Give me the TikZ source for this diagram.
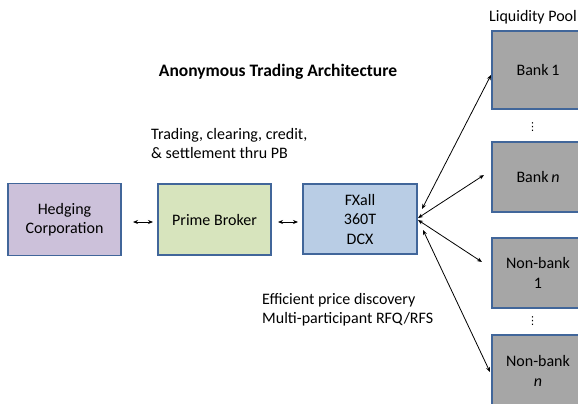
\documentclass[tikz,border=0pt]{standalone}
\usepackage{fontspec}
\setmainfont{Carlito}
\newfontfamily\symbolfont{DejaVu Sans}
\usetikzlibrary{arrows.meta}
\definecolor{edgeblue}{HTML}{41669A}
\definecolor{lavender}{HTML}{CCC1DA}
\definecolor{palegreen}{HTML}{D7E4BD}
\definecolor{paleblue}{HTML}{B9CDE5}
\definecolor{poolgray}{HTML}{A6A6A6}
\tikzset{
  box/.style={draw=edgeblue, line width=1.6pt, minimum width=#1, align=center,
    inner sep=0pt, font=\fontsize{16}{19.5}\selectfont},
  box/.default=113pt,
  link/.style={line width=0.8pt, {Stealth[length=5pt,width=4pt]}-{Stealth[length=5pt,width=4pt]}},
  note/.style={align=left, anchor=west, inner sep=0pt, font=\fontsize{16}{19}\selectfont},
  dots/.style={inner sep=0pt, font=\symbolfont\fontsize{11}{12}\selectfont}
}
\begin{document}
\begin{tikzpicture}[x=1pt,y=-1pt]
\useasboundingbox (0,0) rectangle (578,404);
\clip (0,0) rectangle (578,404);

% title
\node[font=\bfseries\fontsize{17.5}{20}\selectfont] (title) at (278,72) {Anonymous Trading Architecture};

% main chain
\node[box, fill=lavender, minimum height=72pt] (hedge) at (64.5,219.5) {Hedging\\Corporation};
\node[box, fill=palegreen, minimum height=71pt] (pb) at (214.5,219.5) {Prime Broker};
\node[box, fill=paleblue, minimum height=70pt, minimum width=114pt] (fx) at (360,219) {FXall\\360T\\DCX};

% liquidity pool
\node[font=\fontsize{16}{19}\selectfont] (pool) at (533,17) {Liquidity Pool};
\node[box=92pt, fill=poolgray, minimum height=78pt] (b1) at (538,70) {Bank\,1};
\node[box=92pt, fill=poolgray, minimum height=70pt] (bn) at (538,177) {Bank\,\textit{n}};
\node[box=92pt, fill=poolgray, minimum height=70pt] (nb1) at (538,273) {Non-bank\\1};
\node[box=92pt, fill=poolgray, minimum height=72pt] (nbn) at (538,371) {Non-bank\\\textit{n}};
\node[dots] (d1) at (532.5,127) {⋮};
\node[dots] (d2) at (532.5,321) {⋮};

% notes
\node[note] (n1) at (151,144) {Trading, clearing, credit,\\\& settlement thru PB};
\node[note] (n2) at (262,310) {Efficient price discovery\\Multi-participant RFQ/RFS};

% connectors
\coordinate (h1) at (133,222);
\coordinate (h2) at (153,222);
\coordinate (p1) at (278,222);
\coordinate (p2) at (298,222);
\draw[link] (h1) -- (h2);
\draw[link] (p1) -- (p2);

\coordinate (f1) at (422,209);
\coordinate (f2) at (418,218);
\coordinate (f3) at (418,220);
\coordinate (f4) at (423,230);
\coordinate (t1) at (491,75);
\coordinate (t2) at (484,175);
\coordinate (t3) at (482,262);
\coordinate (t4) at (490,372);
\draw[link] (f1) -- (t1);
\draw[link] (f2) -- (t2);
\draw[link] (f3) -- (t3);
\draw[link] (f4) -- (t4);
\end{tikzpicture}
\end{document}
